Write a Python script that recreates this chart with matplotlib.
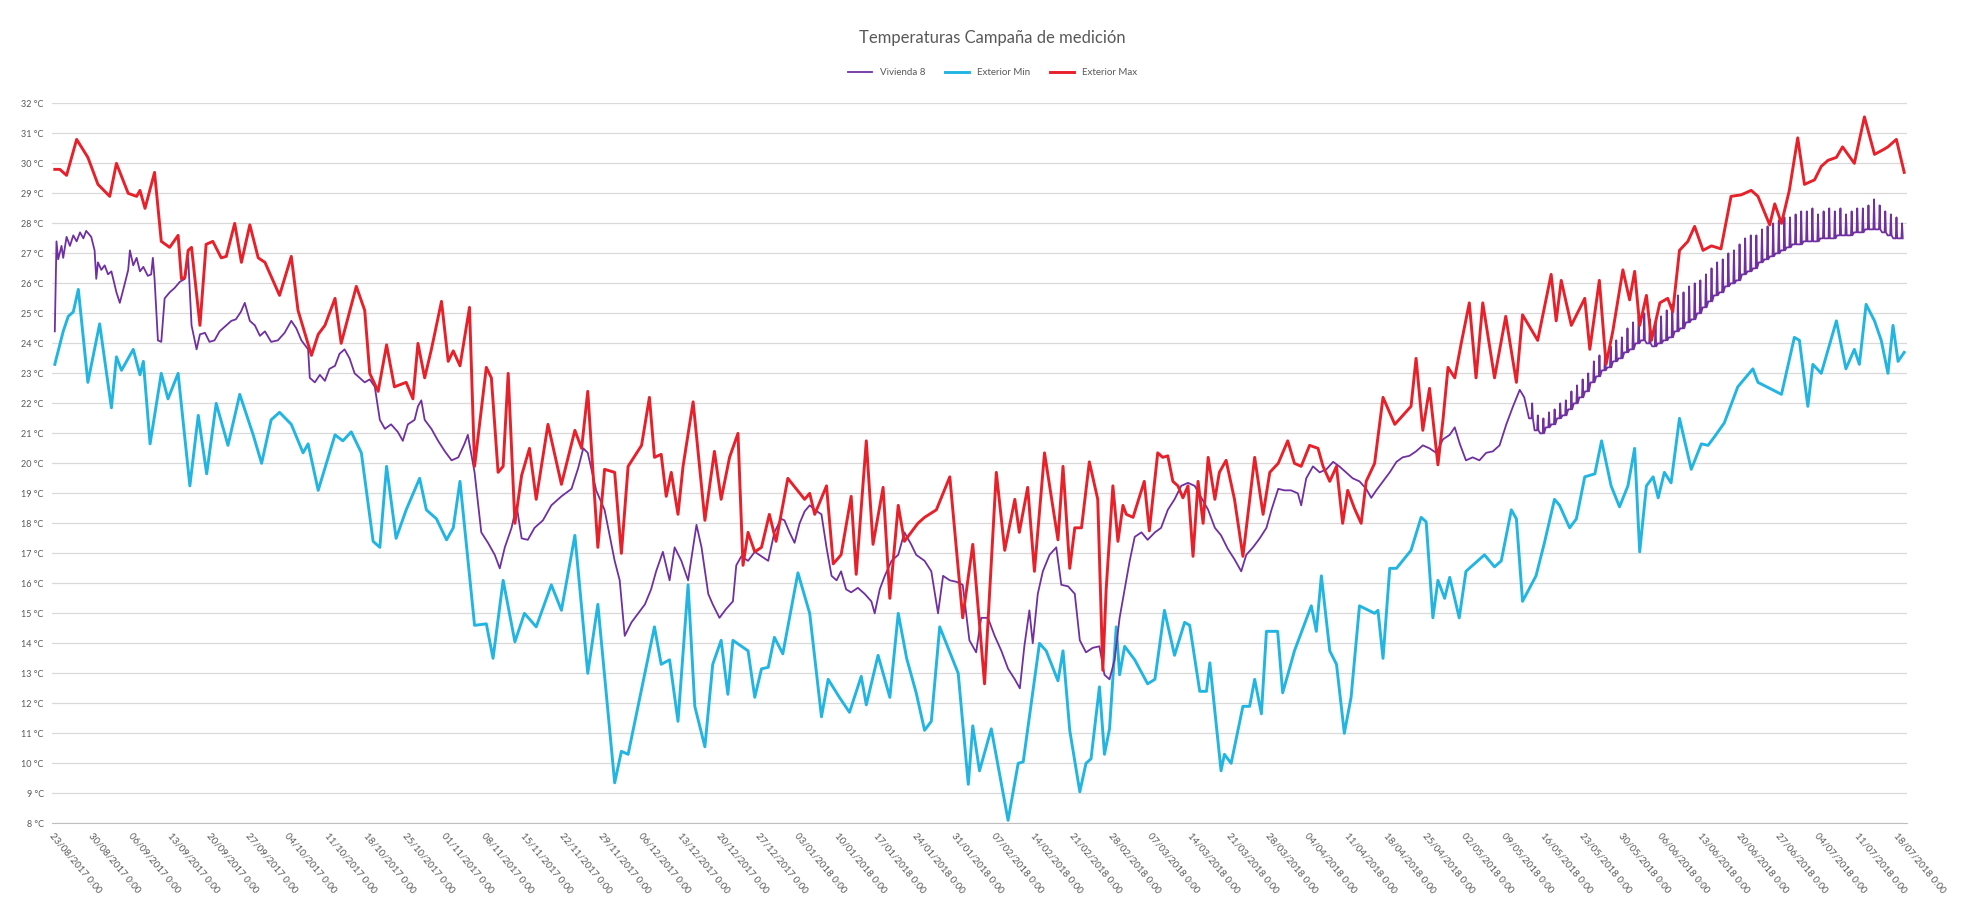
import numpy as np
import pandas as pd
import matplotlib
matplotlib.use('Agg')
import matplotlib.pyplot as plt

plt.rcParams['font.family'] = ['Lato', 'DejaVu Sans']

# días desde el 23/08/2017 y temperaturas
max_day = [0, 0.9, 2.1, 3.9, 5.9, 7.7, 9.8, 11, 13.1, 14.6, 15.2, 16.1, 17.8, 19, 20.5, 22, 22.6, 23.2,
           23.8, 24.4, 25.9, 27, 28.2, 29.7, 30.6, 32.1, 33.3, 34.8, 36.3, 37.5, 40.1, 42.2, 43.4, 45.8,
           47, 48.2, 50, 51.1, 53.8, 55.3, 56.2, 57.7, 59.2, 60.6, 62.7, 63.9,
           64.8, 66.0, 67.2, 69, 70.2, 71.1, 72.3, 74.0, 74.9, 77, 77.9, 79.1, 80, 80.9, 82.1, 83.3,
           84.7, 85.9, 88, 90.4, 92.8, 94, 95.1, 96.9, 98.1, 99.9, 101.1, 102.3, 104.7, 106.1, 107.0,
           108.2, 109.1, 110, 111.2, 112.1, 113.9, 116, 117.7, 118.9, 120.4, 121.9, 122.8, 123.7,
           124.9, 126.1, 127.5, 128.7,
           130.8, 133.8, 134.7, 135.6, 137.7, 138.9, 140.3, 142.1, 143, 144.8, 146, 147.8, 149,
           150.5, 151.6, 154, 155.2, 157.3, 159.7, 162, 163.8, 165.9, 168, 169.5, 171.3, 172.1,
           173.6, 174.8, 176.6, 179, 179.9, 181.1, 182, 183.2, 184.6, 186.1, 187, 187.6, 188.8,
           189.7, 190.6, 191.2, 192.4, 194.4, 195.3,
           196.8, 197.7, 198.6, 199.5, 200.4, 201.3, 202.2, 203.1, 204.0, 204.9, 205.8, 207.0,
           207.8, 209.0, 210.5, 212.0, 212.9, 214.1, 215.6, 216.8, 218.3, 220.0, 221.2, 222.4,
           223.9, 225.4, 226.3, 227.5, 228.7, 229.8, 230.7, 231.9, 233.1, 234.0, 235.5, 237.0,
           239.1, 242.0, 242.9, 244.1, 245.3, 246.8, 247.7, 248.6, 249.8, 250.9, 252.4, 253.6,
           254.8, 256.9, 258.9, 260.8, 261.9,
           264.6, 267.0, 267.9, 268.8, 270.6, 273.0, 273.9, 275.6, 276.8, 278.0, 279.8, 281.0,
           281.9, 282.8, 284.0, 284.9, 286.4, 287.8, 288.7, 289.9, 291.4, 292.6, 294.1, 295.6,
           297.3, 299.1, 300.9, 302.7, 303.9, 306.0, 306.9, 308.1, 309.5, 311.0, 312.2, 314.0,
           315.2, 316.4, 317.9, 319.0, 321.1, 322.9, 324.7, 326.2, 327.1, 328.6, 330.0]
max_val = [29.8, 29.8, 29.6, 30.8, 30.2, 29.3, 28.9, 30.0, 29.0, 28.9, 29.1, 28.5, 29.7, 27.4, 27.2, 27.6,
           26.15, 26.2, 27.1, 27.2, 24.6, 27.3, 27.4, 26.85, 26.9, 28.0, 26.7, 27.95, 26.85, 26.7,
           25.6, 26.9, 25.1, 23.6, 24.3, 24.6, 25.5, 24.0, 25.9, 25.1, 23.0, 22.4, 23.95, 22.55,
           22.7, 22.15,
           24.0, 22.85, 23.8, 25.4, 23.4, 23.75, 23.25, 25.2, 19.9, 23.2, 22.85, 19.7, 19.9, 23.0,
           18.0, 19.6, 20.5, 18.8, 21.3, 19.3, 21.1, 20.5, 22.4, 17.2, 19.8, 19.7, 17.0, 19.9, 20.6,
           22.2, 20.2, 20.3, 18.9, 19.7, 18.3, 19.9, 22.05, 18.1, 20.4, 18.8, 20.2, 21.0, 16.6,
           17.7, 17.05, 17.2, 18.3, 17.4,
           19.5, 18.8, 19.0, 18.3, 19.25, 16.65, 16.95, 18.9, 16.3, 20.75, 17.3, 19.2, 15.5, 18.6,
           17.4, 18.0, 18.2, 18.45, 19.55, 14.85, 17.3, 12.65, 19.7, 17.1, 18.8, 17.7, 19.2, 16.4,
           20.35, 17.45, 19.9, 16.5, 17.85, 17.85, 20.05, 18.8, 13.1, 15.8, 19.25, 17.4, 18.6,
           18.3, 18.2, 19.4, 17.75,
           20.35, 20.2, 20.25, 19.4, 19.25, 18.85, 19.25, 16.9, 19.4, 18.0, 20.2, 18.8, 19.7,
           20.1, 18.8, 16.9, 18.3, 20.2, 18.3, 19.7, 20.0, 20.75, 20.0, 19.9, 20.6, 20.5, 19.9,
           19.4, 19.9, 18.0, 19.1, 18.5, 18.0, 19.4, 20.0, 22.2, 21.3, 21.9, 23.5, 21.1, 22.5,
           19.95, 21.45, 23.2, 22.85, 23.95, 25.35, 22.85, 25.35, 22.85, 24.9, 22.7, 24.95,
           24.1, 26.3, 24.75, 26.1, 24.6, 25.5, 23.8, 26.1, 23.3, 24.4, 26.45, 25.45, 26.4, 24.6,
           25.6, 24.1, 25.35, 25.5, 25.05, 27.1, 27.4, 27.9, 27.1, 27.25, 27.15, 28.9, 28.95,
           29.1, 28.9, 27.95, 28.65, 28.0, 29.1, 30.85, 29.3, 29.45, 29.9, 30.1, 30.2, 30.55,
           30.0, 31.55, 30.3, 30.45, 30.55, 30.8, 29.7]

min_day = [0, 1.5, 2.4, 3.3, 4.2, 5.9, 8.0, 10.1, 11.0, 11.9, 14.0, 15.2, 15.8, 17.0, 19.0, 20.2,
           22.0, 24.1, 25.6, 27.1, 28.8, 30.9, 33.0, 35.4, 36.9, 38.6, 40.1, 42.2, 44.3, 45.2,
           47.0, 50.0, 51.4, 52.9, 54.7, 56.8, 58.0, 59.2, 60.9, 62.7,
           65.1, 66.3, 68.1, 69.9, 71.1, 72.3, 74.9, 77.0, 78.2, 80.0, 82.1, 83.8, 85.9, 88.6,
           90.4, 92.8, 95.1, 96.9, 99.9, 101.1, 102.3, 107.0, 108.2, 109.7, 111.2, 113.0, 114.2,
           116.0, 117.4, 118.9, 120.1, 121.0, 123.7, 124.9, 126.1, 127.3, 128.4, 129.9,
           132.6, 134.7, 136.8, 138.0, 140.0, 141.8, 143.9, 144.8, 146.9, 149.0, 150.5, 152.0,
           153.7, 155.2, 156.4, 157.9, 161.2, 163.0, 163.8, 165.0, 167.1, 170.1, 171.9, 172.8,
           175.7, 176.9, 179.0, 179.9, 181.1, 182.9, 184.0, 184.9, 186.4, 187.3, 188.2, 189.4,
           190.0, 190.9, 192.7, 195.0,
           196.3, 198.0, 199.8, 201.6, 202.5, 204.3, 205.5, 206.1, 208.1, 208.7, 209.9, 212.0,
           213.2, 214.1, 215.3, 216.2, 218.2, 219.1, 221.2, 224.2, 225.1, 226.0, 227.5, 228.7,
           230.1, 231.3, 232.8, 235.5, 236.1, 237.0, 238.2, 239.4, 242.0, 243.8, 244.7, 245.9,
           246.8, 248.0, 248.9, 250.6, 251.8, 253.3, 255.1, 256.9, 258.1, 259.9, 260.8, 261.9,
           264.3, 265.8, 267.6, 268.5, 270.3, 271.5, 273.0, 274.8, 276.0, 277.7, 279.2, 280.7,
           281.9, 282.8, 284.0, 285.2, 286.1, 287.2, 288.4, 289.9, 292.0, 293.8, 295.0, 296.2,
           297.9, 300.3, 303.0, 303.9, 308.1, 310.4, 311.3, 312.8, 313.7, 315.2, 317.9, 319.6,
           321.1, 322.0, 323.2, 324.7, 325.9, 327.1, 328.0, 328.9, 330.0]
min_val = [23.3, 24.4, 24.9, 25.05, 25.8, 22.7, 24.65, 21.85, 23.55, 23.1, 23.8, 22.95, 23.4, 20.65,
           23.0, 22.15, 23.0, 19.25, 21.6, 19.65, 22.0, 20.6, 22.3, 20.95, 20.0, 21.45, 21.7, 21.3,
           20.35, 20.65, 19.1, 20.95, 20.75, 21.05, 20.35, 17.4, 17.2, 19.9, 17.5, 18.45,
           19.5, 18.45, 18.15, 17.45, 17.85, 19.4, 14.6, 14.65, 13.5, 16.1, 14.05, 15.0, 14.55,
           15.95, 15.1, 17.6, 13.0, 15.3, 9.35, 10.4, 10.3, 14.55, 13.3, 13.45, 11.4, 15.95, 11.9,
           10.55, 13.3, 14.1, 12.3, 14.1, 13.75, 12.2, 13.15, 13.2, 14.2, 13.65,
           16.35, 15.0, 11.55, 12.8, 12.2, 11.7, 12.9, 11.95, 13.6, 12.2, 15.0, 13.5, 12.35, 11.1,
           11.4, 14.55, 13.0, 9.3, 11.25, 9.75, 11.15, 8.1, 10.0, 10.05, 14.0, 13.75, 12.75, 13.75,
           11.1, 9.05, 10.0, 10.15, 12.55, 10.3, 11.15, 14.55, 12.95, 13.9, 13.45, 12.65,
           12.8, 15.1, 13.6, 14.7, 14.6, 12.4, 12.4, 13.35, 9.75, 10.3, 10.0, 11.9, 11.9, 12.8,
           11.65, 14.4, 14.4, 12.35, 13.75, 15.25, 14.4, 16.25, 13.75, 13.3, 11.0, 12.2, 15.25,
           15.0, 15.1, 13.5, 16.5, 16.5, 17.1, 18.2, 18.05, 14.85, 16.1, 15.5, 16.2, 14.85, 16.4,
           16.65, 16.95, 16.55, 16.75, 18.45, 18.15, 15.4,
           16.25, 17.35, 18.8, 18.6, 17.85, 18.15, 19.55, 19.65, 20.75, 19.25, 18.55, 19.25, 20.5,
           17.05, 19.25, 19.55, 18.85, 19.7, 19.35, 21.5, 19.8, 20.65, 20.6, 20.9, 21.35, 22.55,
           23.15, 22.7, 22.3, 24.2, 24.1, 21.9, 23.3, 23.0, 24.75, 23.15, 23.8, 23.3, 25.3, 24.75,
           24.1, 23.0, 24.6, 23.4, 23.7]

# Vivienda 8: trazo hasta el día 262
viv_day = [0, 0.3, 0.6, 1.2, 1.5, 2.1, 2.7, 3.3, 3.9, 4.5, 5.1, 5.6, 6.5, 7.1, 7.4, 7.7, 8.3, 8.9,
           9.5, 10.1, 11.0, 11.6, 12.5, 13.1, 13.4, 14.0, 14.6, 15.2, 15.8, 16.6, 17.2, 17.5, 17.8,
           18.4, 19.0, 19.6, 20.5, 21.4, 22.3, 23.2, 23.8, 24.4, 25.3, 25.9, 26.8, 27.6, 28.5,
           29.4, 30.6, 31.5, 32.3, 33.2, 33.9, 34.8, 35.7, 36.6, 37.5, 38.6, 39.8, 41.0, 42.2,
           43.1, 44.0, 45.2, 45.5, 46.4, 47.3, 48.2, 49.0, 50.0, 50.8, 51.7, 52.6, 53.5, 54.4,
           55.3, 56.2, 57.1, 58.0, 58.9, 60.0, 61.2, 62.1, 63.0,
           64.2, 64.8, 65.4, 66.0, 67.2, 68.4, 69.6, 70.8, 72.0, 73.1, 73.7, 74.9, 76.1, 77.3,
           78.5, 79.4, 80.3, 81.5, 82.4, 83.3, 84.4, 85.6, 87.1, 88.6, 90.4, 92.2, 93.4, 94.3,
           95.1, 96.6, 98.1, 99.9, 100.8, 101.7, 102.9, 104.1, 105.3, 106.4, 107.3, 108.5, 109.7,
           110.6, 111.8, 113.0, 114.5, 115.4, 116.6, 117.4, 118.6, 119.8, 121.0, 121.6, 122.5,
           123.7, 124.9, 126.1, 127.3, 128.4, 129.6,
           130.2, 131.1, 132.0, 132.9, 133.8, 134.7, 135.6, 136.8, 137.7, 138.6, 139.5, 140.3,
           141.2, 142.1, 143.3, 144.5, 145.7, 146.3, 147.2, 148.1, 149.3, 150.5, 151.6, 152.8,
           153.7, 155.2, 156.4, 157.6, 158.5, 159.7, 160.9, 162.0, 163.2, 164.4, 165.3, 166.5,
           167.7, 168.9, 170.1, 171.3, 172.2, 173.0, 173.9, 174.5, 175.4, 176.3, 177.5, 178.7,
           179.6, 180.8, 182.0, 182.9, 184.0, 185.2, 186.4, 187.3, 188.2, 189.1, 190.0, 190.9,
           191.8, 192.7, 193.9, 195.0,
           196.3, 197.4, 198.6, 199.8, 201.0, 202.2, 203.4, 204.6, 205.8, 207.0, 208.1, 209.3,
           210.5, 211.7, 212.6, 213.8, 215.0, 216.2, 217.1, 218.3, 219.4, 220.6, 221.8, 222.4,
           223.3, 224.5, 225.7, 226.9, 228.1, 229.2, 230.4, 231.6, 232.8, 234.0, 234.9, 235.8,
           237.0, 238.2, 239.4, 240.5, 241.7, 242.9, 244.1, 245.3, 246.5, 247.7, 248.9, 249.8,
           250.7, 251.8, 253.0, 254.2, 255.4, 256.6, 257.8, 259.0, 260.2, 261.4, 262.2]
viv_val = [24.4, 27.4, 26.8, 27.25, 26.85, 27.55, 27.25, 27.6, 27.4, 27.7, 27.5, 27.75, 27.55, 27.1,
           26.15, 26.7, 26.45, 26.6, 26.3, 26.4, 25.7, 25.35, 26.0, 26.45, 27.1, 26.6, 26.85, 26.4,
           26.55, 26.25, 26.3, 26.85, 26.15, 24.1, 24.05, 25.5, 25.7, 25.85, 26.05, 26.15, 26.85,
           24.6, 23.8, 24.3, 24.35, 24.05, 24.1, 24.4, 24.6, 24.75, 24.8, 25.05, 25.35, 24.75,
           24.6, 24.25, 24.4, 24.05, 24.1, 24.35, 24.75, 24.5, 24.1, 23.8, 22.85, 22.7, 22.95,
           22.75, 23.15, 23.25, 23.65, 23.8, 23.5, 23.0, 22.85, 22.7, 22.8, 22.55, 21.45, 21.15,
           21.3, 21.05, 20.75, 21.3,
           21.45, 21.9, 22.1, 21.45, 21.15, 20.75, 20.4, 20.1, 20.2, 20.65, 20.95, 19.7, 17.7,
           17.35, 16.95, 16.5, 17.2, 17.85, 18.6, 17.5, 17.45, 17.85, 18.1, 18.6, 18.9, 19.15,
           19.85, 20.5, 20.35, 19.1, 18.45, 16.75, 16.1, 14.25, 14.7, 15.0, 15.3, 15.8, 16.4,
           17.05, 16.1, 17.2, 16.75, 16.1, 17.95, 17.2, 15.65, 15.3, 14.85, 15.15, 15.4, 16.6,
           16.9, 16.75, 17.05, 16.9, 16.75, 17.7, 18.15,
           18.1, 17.7, 17.35, 18.0, 18.4, 18.6, 18.45, 18.3, 17.2, 16.25, 16.1, 16.4, 15.8, 15.7,
           15.85, 15.65, 15.4, 15.0, 15.8, 16.25, 16.75, 16.95, 17.7, 17.3, 16.95, 16.75, 16.4,
           15.0, 16.25, 16.1, 16.05, 15.95, 14.1, 13.7, 14.85, 14.85, 14.25, 13.75, 13.15, 12.8,
           12.5, 13.9, 15.1, 14.0, 15.65, 16.4, 16.95, 17.2, 15.95, 15.9, 15.65, 14.1, 13.7,
           13.85, 13.9, 12.95, 12.8, 13.45, 14.85, 15.8, 16.75, 17.55, 17.7, 17.45,
           17.7, 17.85, 18.45, 18.8, 19.25, 19.35, 19.25, 18.85, 18.45, 17.85, 17.6, 17.15, 16.8,
           16.4, 16.95, 17.2, 17.5, 17.85, 18.45, 19.15, 19.1, 19.1, 19.0, 18.6, 19.5, 19.9, 19.7,
           19.8, 20.05, 19.9, 19.7, 19.5, 19.4, 19.15, 18.85, 19.1, 19.4, 19.7, 20.05, 20.2,
           20.25, 20.4, 20.6, 20.5, 20.35, 20.8, 20.95, 21.2, 20.65, 20.1, 20.2, 20.1, 20.35,
           20.4, 20.6, 21.3, 21.9, 22.45, 22.2]

# Vivienda 8 desde el día 263: mínimo y máximo de cada día
viv_sum_day = list(range(263, 330))
viv_sum_lo = [21.5, 21.1, 21.0, 21.2, 21.3, 21.5, 21.6, 21.8, 22.0, 22.2, 22.4, 22.7, 22.9, 23.1,
              23.2, 23.4, 23.5, 23.7, 23.8, 24.0, 24.1, 24.0, 23.9, 24.0, 24.1, 24.2, 24.4, 24.5,
              24.7, 24.8, 25.0, 25.2, 25.4, 25.6, 25.7, 25.9, 26.0, 26.1, 26.3, 26.4, 26.5, 26.7,
              26.8, 26.9, 27.0, 27.1, 27.2, 27.3, 27.3, 27.4, 27.4, 27.4, 27.5, 27.5, 27.5, 27.6,
              27.6, 27.6, 27.7, 27.7, 27.8, 27.8, 27.8, 27.7, 27.6, 27.5, 27.5]
viv_sum_hi = [22.0, 21.6, 21.5, 21.7, 21.8, 22.0, 22.1, 22.4, 22.6, 22.8, 23.0, 23.4, 23.6, 23.7,
              23.9, 24.1, 24.2, 24.5, 24.7, 24.9, 25.0, 24.8, 24.7, 24.9, 25.1, 25.3, 25.6, 25.7,
              25.9, 26.0, 26.1, 26.3, 26.5, 26.7, 26.8, 27.0, 27.1, 27.3, 27.5, 27.6, 27.6, 27.8,
              27.9, 28.0, 28.1, 28.2, 28.2, 28.3, 28.4, 28.4, 28.5, 28.3, 28.4, 28.5, 28.4, 28.5,
              28.3, 28.4, 28.5, 28.5, 28.6, 28.8, 28.6, 28.4, 28.3, 28.2, 28.0]

tick_dates = pd.date_range('2017-08-23', periods=48, freq='7D')
tick_labels = [d.strftime('%d/%m/%Y') + ' 0:00' for d in tick_dates]

# unir el trazo de invierno con el de verano: pico corto por la tarde
vx = list(viv_day)
vy = list(viv_val)
for d, lo, hi in zip(viv_sum_day, viv_sum_lo, viv_sum_hi):
    vx += [d + 0.05, d + 0.5, d + 0.62, d + 0.74]
    vy += [lo, lo, hi, lo]

fig = plt.figure(figsize=(19.77, 9.23), dpi=100)
ax = fig.add_axes([0.0263, 0.108, 0.9383, 0.78])

ax.plot(vx, vy, color='#7030A0', lw=1.3, label='Vivienda 8', zorder=3)
ax.plot(min_day, min_val, color='#22B5E2', lw=2.1, label='Exterior Min', zorder=2)
ax.plot(max_day, max_val, color='#E8202A', lw=2.1, label='Exterior Max', zorder=4)

ax.set_xlim(-0.5, 330.5)
ax.set_ylim(8, 32)
ax.set_yticks(range(8, 33))
ax.set_yticklabels(['%d °C' % t for t in range(8, 33)], fontsize=6.5, color='#595959')
ax.set_xticks(np.arange(0, 48 * 7, 7))
ax.set_xticklabels(tick_labels, rotation=-50, ha='left', va='top',
                   rotation_mode='anchor', fontsize=7, color='#595959')
ax.tick_params(length=0, pad=6)
ax.grid(axis='y', color='#d9d9d9', lw=0.9)
ax.set_axisbelow(True)
for s in ['top', 'right', 'left']:
    ax.spines[s].set_visible(False)
ax.spines['bottom'].set_color('#bfbfbf')

fig.text(0.502, 0.959, 'Temperaturas Campaña de medición', ha='center', va='center',
         fontsize=12, color='#595959')
fig.legend(loc='center', bbox_to_anchor=(0.502, 0.921), ncol=3, frameon=False,
           fontsize=7, handlelength=2.5, columnspacing=2, labelcolor='#595959')

fig.savefig('out.png', dpi=100)
